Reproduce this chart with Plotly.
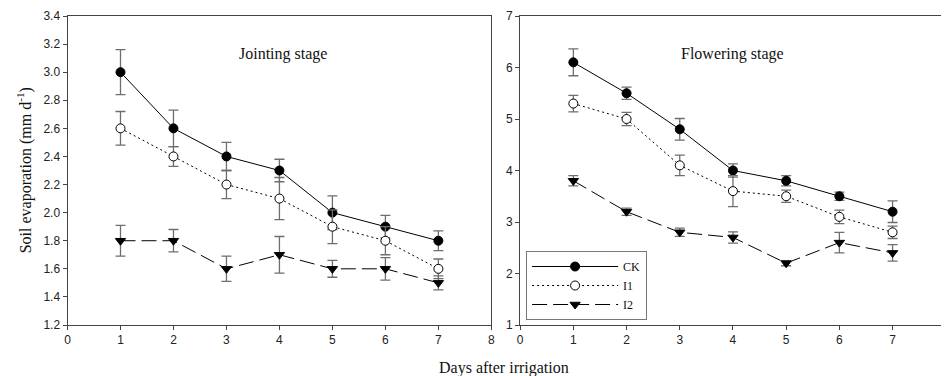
import plotly.graph_objects as go

days = [1, 2, 3, 4, 5, 6, 7]

# Jointing stage (left panel)
j_ck = [3.0, 2.6, 2.4, 2.3, 2.0, 1.9, 1.8]
j_ck_err = [0.16, 0.13, 0.10, 0.08, 0.12, 0.08, 0.07]
j_i1 = [2.6, 2.4, 2.2, 2.1, 1.9, 1.8, 1.6]
j_i1_err = [0.12, 0.07, 0.10, 0.15, 0.12, 0.10, 0.07]
j_i2 = [1.8, 1.8, 1.6, 1.7, 1.6, 1.6, 1.5]
j_i2_err = [0.11, 0.08, 0.09, 0.13, 0.06, 0.08, 0.05]

# Flowering stage (right panel)
f_ck = [6.1, 5.5, 4.8, 4.0, 3.8, 3.5, 3.2]
f_ck_err = [0.26, 0.12, 0.21, 0.13, 0.10, 0.08, 0.21]
f_i1 = [5.3, 5.0, 4.1, 3.6, 3.5, 3.1, 2.8]
f_i1_err = [0.16, 0.13, 0.20, 0.30, 0.12, 0.13, 0.12]
f_i2 = [3.8, 3.2, 2.8, 2.7, 2.2, 2.6, 2.4]
f_i2_err = [0.10, 0.07, 0.08, 0.11, 0.05, 0.20, 0.16]

series_names = ["CK", "I1", "I2"]
left_ticks = [1.2, 1.4, 1.6, 1.8, 2.0, 2.2, 2.4, 2.6, 2.8, 3.0, 3.2, 3.4]
right_ticks = [1, 2, 3, 4, 5, 6, 7]

W, H = 945, 376
TOP, BOT = 16, 51
PH = H - TOP - BOT

styles = [
    dict(dash="solid", symbol="circle", mcolor="black"),
    dict(dash="2px,3px", symbol="circle", mcolor="white"),
    dict(dash="15px,6px", symbol="triangle-down", mcolor="black"),
]

fig = go.Figure()

def add_panel(vals, errs, xa, ya, show):
    for name, v, e, st in zip(series_names, vals, errs, styles):
        fig.add_trace(go.Scatter(
            x=days, y=v, name=name, mode="lines+markers",
            xaxis=xa, yaxis=ya, showlegend=show,
            line=dict(color="black", width=1, dash=st["dash"]),
            marker=dict(symbol=st["symbol"], size=9, color=st["mcolor"],
                        line=dict(color="black", width=1)),
            error_y=dict(type="data", array=e, visible=True,
                         color="#6e6e6e", thickness=1.3, width=5),
        ))

add_panel([j_ck, j_i1, j_i2], [j_ck_err, j_i1_err, j_i2_err], "x", "y", False)
add_panel([f_ck, f_i1, f_i2], [f_ck_err, f_i1_err, f_i2_err], "x2", "y2", True)

tickfont = dict(family="Liberation Sans, Arial", size=12, color="#222")
axis_common = dict(showgrid=False, zeroline=False, showline=True, linecolor="#444",
                   linewidth=1, ticks="outside", ticklen=4, tickcolor="#444",
                   tickfont=tickfont)
serif = "Liberation Serif, Times New Roman"

fig.update_layout(
    width=W, height=H,
    margin=dict(l=0, r=0, t=TOP, b=BOT),
    paper_bgcolor="white", plot_bgcolor="white",
    xaxis=dict(domain=[65 / W, 492 / W], range=[0, 8], tickvals=list(range(0, 9)),
               mirror=True, **axis_common),
    yaxis=dict(range=[1.2, 3.4], tickvals=left_ticks, tickformat=".1f",
               mirror=True, **axis_common),
    xaxis2=dict(domain=[521 / W, 1.0], range=[0, 7.91], tickvals=list(range(0, 8)),
                anchor="y2", mirror=True, **axis_common),
    yaxis2=dict(range=[1, 7], tickvals=right_ticks, anchor="x2", mirror=False,
                **axis_common),
    legend=dict(x=527 / W, y=1 - (251 - TOP) / PH,
                xanchor="left", yanchor="top",
                bordercolor="#777", borderwidth=1, bgcolor="white",
                font=dict(family=serif, size=12, color="#111"),
                itemwidth=86, tracegroupgap=0),
    showlegend=True,
    annotations=[
        dict(text="Jointing stage", xref="x", yref="y", x=4.06, y=3.13, showarrow=False,
             font=dict(family=serif, size=16, color="#111")),
        dict(text="Flowering stage", xref="x2", yref="y2", x=3.99, y=6.26, showarrow=False,
             font=dict(family=serif, size=16, color="#111")),
        dict(text="Days after irrigation", xref="paper", yref="paper", x=505 / W, y=-(368 - 325) / PH,
             showarrow=False, xanchor="center", yanchor="middle",
             font=dict(family=serif, size=16, color="#111")),
        dict(text="Soil evaporation (mm d<sup>-1</sup>)", xref="paper", yref="paper",
             x=22 / W, y=0.5, textangle=-90, showarrow=False,
             xanchor="center", yanchor="middle",
             font=dict(family=serif, size=16, color="#111")),
    ],
)

fig.write_html("out.html")
